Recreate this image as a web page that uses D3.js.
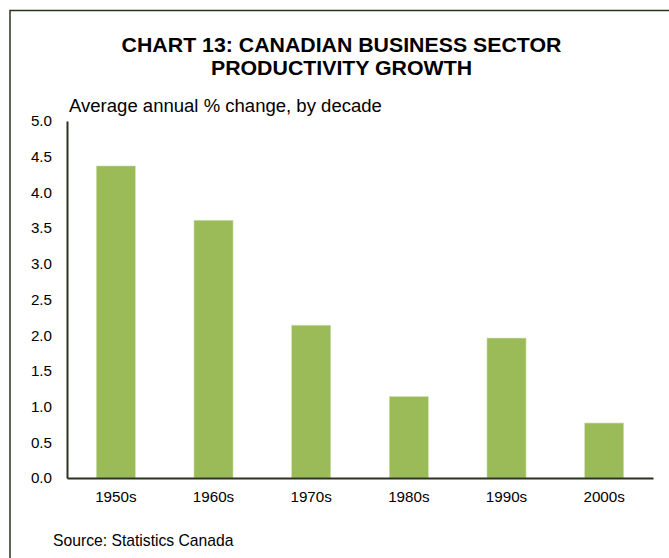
<!DOCTYPE html>
<meta charset="utf-8">
<script src="https://d3js.org/d3.v7.min.js"></script>
<style>
body { margin: 0; background: #fff; }
text { font-family: "Liberation Sans", Arial, sans-serif; fill: #000; }
</style>
<div id="chart"></div>
<script>

const decades = ["1950s", "1960s", "1970s", "1980s", "1990s", "2000s"];
const growth = [4.37, 3.61, 2.14, 1.14, 1.96, 0.77];
const yTicks = [0, 0.5, 1, 1.5, 2, 2.5, 3, 3.5, 4, 4.5, 5];

const W = 669, H = 558;
const margin = {top: 121, right: 16, bottom: 80, left: 67},
    width = W - margin.left - margin.right,
    height = H - margin.top - margin.bottom;

const root = d3.select("#chart").append("svg")
    .attr("width", W)
    .attr("height", H);

// outer frame (runs off the right and bottom edges)
root.append("rect")
    .attr("x", 10).attr("y", 10.5)
    .attr("width", W + 20).attr("height", H + 20)
    .attr("fill", "none")
    .attr("stroke", "#2b3320")
    .attr("stroke-width", 1.5);

// text a bit wider than the font, like the original
function label(x, y, txt, size, anchor, sx, bold) {
  root.append("text")
    .attr("transform", `translate(${x},${y}) scale(${sx},1)`)
    .attr("text-anchor", anchor)
    .style("font-size", size + "px")
    .style("font-weight", bold ? "bold" : "normal")
    .text(txt);
}

label(341.5, 51.5, "CHART 13: CANADIAN BUSINESS SECTOR", 20, "middle", 1.065, true);
label(341.5, 75, "PRODUCTIVITY GROWTH", 20, "middle", 1.065, true);
label(69, 111.5, "Average annual % change, by decade", 17.5, "start", 1.06, false);
label(53, 546, "Source: Statistics Canada", 15.7, "start", 1, false);

const svg = root.append("g")
    .attr("transform", `translate(${margin.left},${margin.top})`);

const x = d3.scaleBand().domain(decades).range([0, width]).paddingInner(0.6).paddingOuter(0.3);
const y = d3.scaleLinear().domain([0, 5]).range([height, 0]);

svg.selectAll(".bar")
  .data(growth)
  .join("rect")
    .attr("class", "bar")
    .attr("x", (d, i) => x(decades[i]))
    .attr("y", d => y(d))
    .attr("width", x.bandwidth())
    .attr("height", d => height - y(d))
    .attr("fill", "#9bbb59")
    .attr("stroke", "#cfe0b0")
    .attr("stroke-width", 0.6);

const yAxis = svg.append("g")
  .call(d3.axisLeft(y).tickValues(yTicks).tickFormat(d3.format(".1f")).tickSize(0).tickPadding(15));
yAxis.select(".domain").attr("stroke", "#2b3320").attr("stroke-width", 2);
yAxis.selectAll("text").style("font-size", "15.2px").attr("fill", "#000");

const xAxis = svg.append("g")
  .attr("transform", `translate(0,${height})`)
  .call(d3.axisBottom(x).tickSize(0).tickPadding(13));
xAxis.select(".domain").attr("stroke", "#2b3320").attr("stroke-width", 2);
xAxis.selectAll("text").style("font-size", "15.2px").attr("fill", "#000");

</script>
